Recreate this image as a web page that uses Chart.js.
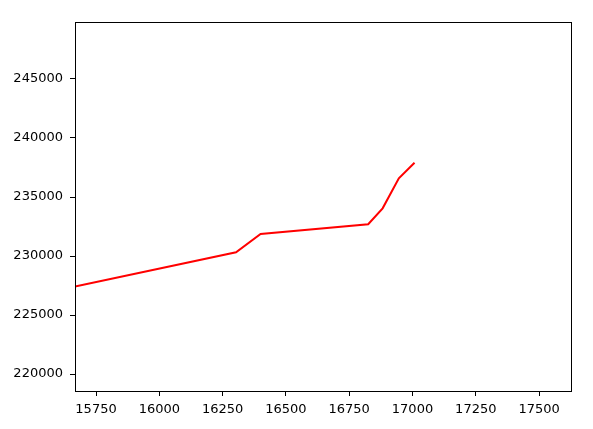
<!DOCTYPE html>
<html>
<head>
<meta charset="utf-8">
<script src="https://cdn.jsdelivr.net/npm/chart.js"></script>
<style>
  html, body { margin: 0; padding: 0; background: #fff; }
  #wrap { width: 593px; height: 429px; }
</style>
</head>
<body>
<div id="wrap"><canvas id="chart"></canvas></div>
<script>
// data
const xValues = [15667, 16303, 16400, 16825, 16882, 16946, 17008];
const yValues = [227420, 230310, 231860, 232690, 234040, 236590, 237900];
const xTicks = [15750, 16000, 16250, 16500, 16750, 17000, 17250, 17500];
const yTicks = [220000, 225000, 230000, 235000, 240000, 245000];
const xRange = [15667, 17626];
const yRange = [218560, 249830];

// box round the plot area, like matplotlib's spines
const frame = {
  id: 'frame',
  afterDraw(chart) {
    const { ctx, chartArea: a } = chart;
    ctx.save();
    ctx.strokeStyle = '#000';
    ctx.lineWidth = 1;
    ctx.strokeRect(Math.round(a.left) + 0.5, Math.round(a.top) + 0.5,
      Math.round(a.right - a.left), Math.round(a.bottom - a.top));
    ctx.restore();
  }
};

const tickFont = { family: 'DejaVu Sans', size: 13 };

new Chart(document.getElementById('chart'), {
  type: 'line',
  data: {
    datasets: [{
      data: xValues.map((x, i) => ({ x: x, y: yValues[i] })),
      borderColor: '#ff0000',
      borderWidth: 2,
      pointRadius: 0,
      tension: 0,
      fill: false
    }]
  },
  options: {
    responsive: true,
    maintainAspectRatio: false,
    animation: false,
    layout: { padding: { top: 22, right: 22, left: 0, bottom: 0 } },
    plugins: { legend: { display: false }, tooltip: { enabled: false } },
    scales: {
      x: {
        type: 'linear',
        min: xRange[0],
        max: xRange[1],
        afterBuildTicks: s => { s.ticks = xTicks.map(v => ({ value: v })); },
        afterFit: s => { s.height = 38; },
        grid: { drawOnChartArea: false, drawTicks: true, tickLength: 5, tickColor: '#000' },
        border: { display: false },
        ticks: { color: '#000', font: tickFont, padding: 6, maxRotation: 0, autoSkip: false,
          callback: v => String(v) }
      },
      y: {
        type: 'linear',
        min: yRange[0],
        max: yRange[1],
        afterBuildTicks: s => { s.ticks = yTicks.map(v => ({ value: v })); },
        afterFit: s => { s.width = 75; },
        grid: { drawOnChartArea: false, drawTicks: true, tickLength: 5, tickColor: '#000' },
        border: { display: false },
        ticks: { color: '#000', font: tickFont, padding: 7, autoSkip: false,
          callback: v => String(v) }
      }
    }
  },
  plugins: [frame]
});
</script>
</body>
</html>
